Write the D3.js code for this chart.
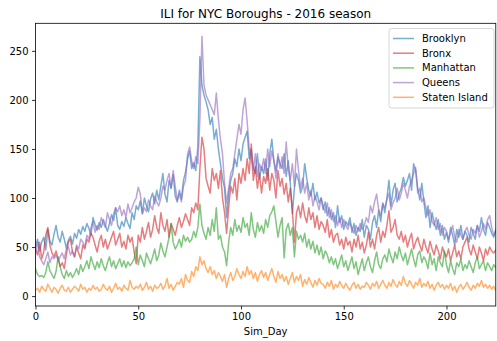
<!DOCTYPE html>
<html>
<head>
<meta charset="utf-8">
<script src="https://cdn.jsdelivr.net/npm/d3@7"></script>
<style>
  html, body { margin: 0; padding: 0; background: #fff; }
  svg { display: block; font-family: "DejaVu Sans", sans-serif; }
</style>
</head>
<body>
<svg id="chart" width="497" height="341"></svg>
<script>
// Daily ILI counts per borough, Sim_Day 0..224
const boroughs = ["Brooklyn", "Bronx", "Manhattan", "Queens", "Staten Island"];

const brooklyn = [
  51, 58, 46, 55, 60, 47, 68, 56, 52, 63,
  72, 60, 55, 66, 58, 49, 57, 61, 53, 64,
  59, 68, 63, 71, 66, 74, 69, 62, 80, 73,
  67, 75, 70, 78, 72, 66, 74, 83, 77, 90,
  72, 68, 76, 71, 80, 74, 69, 85, 78, 92,
  88, 97, 84, 100, 92, 86, 99, 105, 94, 108,
  98, 112, 125, 104, 96, 118, 110, 124, 102, 96,
  108, 99, 118, 126, 140, 148, 130, 136, 128, 152,
  244, 215, 205, 198, 190, 175, 182, 160, 170, 150,
  135, 120, 110, 80, 105, 118, 125, 140, 132, 150,
  138, 155, 162, 168, 140, 150, 132, 125, 145, 120,
  132, 125, 140, 118, 145, 160, 138, 128, 142, 135,
  130, 145, 122, 138, 115, 84, 110, 125, 118, 105,
  112, 135, 120, 108, 102, 115, 98, 106, 95, 100,
  88, 96, 82, 90, 78, 85, 70, 92, 75, 82,
  68, 76, 72, 80, 65, 74, 62, 70, 66, 78,
  60, 72, 68, 58, 75, 82, 70, 88, 76, 95,
  85, 100, 118, 92, 108, 115, 96, 104, 110, 121,
  112, 118, 125, 108, 135, 128, 110, 98, 115, 96,
  80, 92, 70, 85, 75, 68, 78, 62, 72, 58,
  65, 55, 70, 62, 52, 68, 60, 72, 58, 66,
  62, 55, 70, 64, 58, 72, 66, 80, 68, 62,
  75, 70, 64, 60, 68
];

const bronx = [
  48, 42, 55, 38, 45, 62, 70, 52, 44, 40,
  46, 38, 30, 34, 28, 42, 55, 58, 45, 40,
  50, 44, 38, 52, 48, 58, 55, 64, 60, 52,
  45, 56, 62, 50, 58, 48, 54, 60, 66, 52,
  58, 64, 50, 56, 48, 62, 55, 60, 45, 33,
  62, 55, 70, 58, 66, 75, 60, 68, 82, 70,
  64, 85, 72, 66, 78, 60, 74, 68, 62, 72,
  80, 70, 76, 84, 78, 72, 90, 85, 95, 88,
  130, 162, 150, 120, 112, 105, 130, 118, 125, 110,
  128, 100, 85, 64, 90, 112, 105, 120, 98, 125,
  115, 130, 118, 140, 125, 155, 118, 132, 110, 125,
  105, 122, 115, 130, 108, 125, 118, 100, 128, 112,
  120, 104, 115, 96, 110, 88, 55, 85, 92, 80,
  95, 82, 75, 90, 78, 85, 70, 82, 68, 76,
  72, 65, 78, 60, 68, 55, 62, 64, 52, 58,
  48, 60, 52, 56, 45, 58, 50, 62, 48, 55,
  44, 52, 65, 50, 58, 48, 62, 70, 55, 66,
  60, 72, 87, 65, 70, 78, 62, 58, 66, 55,
  62, 50, 58, 64, 48, 55, 60, 52, 46, 58,
  50, 44, 56, 48, 42, 52, 46, 38, 50, 44,
  40, 48, 36, 44, 52, 40, 46, 38, 50, 55,
  60, 48, 42, 52, 45, 38, 50, 44, 36, 48,
  42, 50, 46, 44, 47
];

const manhattan = [
  28, 22, 20, 21, 19, 24, 35, 26, 22, 18,
  25, 40, 30, 22, 18, 26, 20, 24, 19, 23,
  28, 22, 32, 25, 30, 36, 28, 40, 33, 27,
  35, 29, 38, 31, 26, 34, 40, 30, 36, 28,
  33, 38, 30, 36, 29, 35, 31, 34, 38, 50,
  32, 42, 36, 30, 44, 38, 33, 40, 48, 36,
  42, 54, 46, 40, 50, 60, 74, 55, 48, 52,
  58, 50, 62, 56, 60, 55, 58, 66, 60, 70,
  94, 72, 64, 58, 70, 62, 78, 66, 90, 58,
  62, 50, 45, 31, 55, 70, 62, 78, 66, 72,
  65, 80, 70, 74, 62, 85, 68, 60, 75, 66,
  72, 64, 78, 70, 82, 86, 92, 76, 60, 72,
  80, 39, 68, 74, 62, 70, 40, 66, 58, 62,
  55, 64, 50, 58, 48, 56, 44, 52, 42, 50,
  38, 46, 42, 34, 40, 32, 38, 28, 35, 42,
  30, 36, 26, 33, 40, 28, 35, 22, 30, 38,
  26, 34, 40, 30, 24, 36, 45, 32, 28, 38,
  42, 35, 48, 40, 34, 45, 38, 50, 42, 36,
  44, 32, 40, 48, 38, 30, 42, 46, 34, 40,
  36, 28, 44, 32, 38, 26, 40, 34, 30, 46,
  32, 24, 36, 28, 22, 34, 30, 38, 26, 32,
  28, 36, 30, 24, 34, 40, 28, 32, 36, 26,
  34, 30, 26, 32, 29
];

const queens = [
  45, 55, 40, 36, 32, 38, 45, 34, 40, 38,
  42, 36, 40, 44, 38, 48, 50, 42, 46, 40,
  52, 48, 58, 55, 50, 62, 58, 70, 76, 65,
  72, 68, 80, 74, 70, 85, 78, 72, 84, 90,
  86, 92, 82, 88, 80, 94, 85, 90, 96, 100,
  111, 104, 84, 90, 86, 98, 92, 88, 102, 96,
  92, 100, 112, 108, 118, 125, 110, 128, 112, 98,
  104, 96, 112, 118, 145, 152, 138, 130, 142, 135,
  180, 265, 215, 205, 200, 195, 190, 185, 207, 180,
  160, 145, 115, 95, 110, 125, 130, 145, 160, 175,
  165, 190, 202, 178, 150, 140, 128, 145, 122, 135,
  128, 140, 125, 150, 132, 148, 138, 120, 145, 130,
  142, 125, 157, 130, 118, 135, 112, 150, 128, 110,
  120, 105, 115, 98, 108, 92, 102, 96, 88, 100,
  92, 85, 95, 80, 88, 76, 82, 72, 80, 70,
  78, 72, 68, 75, 70, 64, 72, 66, 74, 68,
  72, 80, 75, 92, 85, 96, 104, 88, 82, 94,
  90, 98, 105, 88, 95, 100, 110, 98, 105, 115,
  108, 100, 112, 118, 125, 131, 105, 110, 96, 100,
  90, 82, 88, 76, 72, 80, 68, 74, 62, 70,
  66, 58, 64, 72, 60, 55, 68, 62, 58, 66,
  70, 62, 58, 68, 64, 72, 60, 66, 74, 68,
  78, 82, 70, 62, 66
];

const statenIsland = [
  6, 8, 4, 10, 7, 5, 12, 8, 4, 9,
  7, 3, 8, 11, 6, 5, 9, 4, 7, 10,
  8, 5, 12, 7, 9, 4, 8, 6, 11, 7,
  9, 5, 7, 12, 8, 6, 10, 4, 8, 13,
  7, 9, 5, 11, 8, 6, 16, 9, 7, 10,
  8, 12, 6, 9, 14, 7, 10, 5, 11, 8,
  9, 13, 7, 10, 18, 8, 12, 6, 10, 14,
  12, 18, 9, 22, 16, 14, 25, 20, 30, 26,
  40, 32, 36, 28, 24, 30, 22, 26, 18, 24,
  20, 15, 22, 9, 18, 24, 16, 20, 28, 22,
  18, 25, 20, 30, 22, 26, 18, 24, 15, 22,
  26, 19, 24, 16, 22, 28, 20, 14, 25, 18,
  22, 15, 20, 12, 18, 24, 14, 20, 16, 22,
  10, 17, 12, 19, 14, 9, 16, 11, 18, 13,
  12, 8, 14, 10, 16, 7, 12, 9, 15, 11,
  8, 13, 9, 6, 11, 14, 8, 12, 7, 10,
  9, 14, 11, 7, 13, 10, 15, 8, 12, 16,
  11, 8, 14, 10, 17, 12, 9, 15, 11, 20,
  13, 10, 16, 12, 8, 14, 11, 18, 9, 13,
  10, 15, 8, 12, 6, 11, 14, 9, 12, 7,
  11, 8, 13, 6, 10, 4, 9, 12, 7, 10,
  14, 9, 6, 11, 8, 13, 10, 16, 9, 12,
  8, 11, 7, 10, 6
];

const colors = ["#1f77b4", "#d62728", "#2ca02c", "#9467bd", "#ff7f0e"];
const xTicks = [0, 50, 100, 150, 200];
const yTicks = [0, 50, 100, 150, 200, 250];

const seriesValues = [brooklyn, bronx, manhattan, queens, statenIsland];
const series = boroughs.map((name, i) => ({
  name,
  color: colors[i],
  points: seriesValues[i].map((v, d) => ({ day: d, value: v }))
}));

const svg = d3.select("#chart");
const plot = { left: 35.5, right: 495.8, top: 23.3, bottom: 306 };

const x = d3.scaleLinear()
  .domain([0, brooklyn.length - 1])
  .range([plot.left, plot.right]);

// matplotlib-style 5% vertical margins
const allVals = seriesValues.flat();
const vMin = d3.min(allVals), vMax = d3.max(allVals);
const pad = (vMax - vMin) * 0.05;
const y = d3.scaleLinear()
  .domain([vMin - pad, vMax + pad])
  .range([plot.bottom, plot.top]);

svg.append("defs").append("clipPath").attr("id", "plot-clip")
  .append("rect")
  .attr("x", plot.left).attr("y", plot.top)
  .attr("width", plot.right - plot.left)
  .attr("height", plot.bottom - plot.top);

const line = d3.line()
  .x(d => x(d.day))
  .y(d => y(d.value));

svg.append("g").attr("clip-path", "url(#plot-clip)")
  .selectAll("path")
  .data(series)
  .join("path")
  .attr("d", d => line(d.points))
  .attr("fill", "none")
  .attr("stroke", d => d.color)
  .attr("stroke-width", 1.5)
  .attr("stroke-opacity", 0.6)
  .attr("stroke-linejoin", "round")
  .attr("stroke-linecap", "square");

// Axes
const xAxis = svg.append("g")
  .attr("transform", `translate(0,${plot.bottom})`)
  .call(d3.axisBottom(x).tickValues(xTicks).tickSize(3.5).tickPadding(3.5).tickFormat(d3.format("d")));
const yAxis = svg.append("g")
  .attr("transform", `translate(${plot.left},0)`)
  .call(d3.axisLeft(y).tickValues(yTicks).tickSize(3.5).tickPadding(3.5).tickFormat(d3.format("d")));

[xAxis, yAxis].forEach(g => {
  g.select(".domain").remove();
  g.selectAll(".tick line").attr("stroke", "#000").attr("stroke-width", 0.8);
  g.selectAll(".tick text")
    .attr("fill", "#000")
    .style("font-family", "DejaVu Sans, sans-serif")
    .style("font-size", "10px");
});

// Frame
svg.append("rect")
  .attr("x", plot.left).attr("y", plot.top)
  .attr("width", plot.right - plot.left)
  .attr("height", plot.bottom - plot.top)
  .attr("fill", "none")
  .attr("stroke", "#000")
  .attr("stroke-width", 0.8);

// Title and axis label
svg.append("text")
  .attr("x", (plot.left + plot.right) / 2)
  .attr("y", 17.5)
  .attr("text-anchor", "middle")
  .style("font-size", "12px")
  .attr("fill", "#000")
  .text("ILI for NYC Boroughs - 2016 season");

svg.append("text")
  .attr("x", (plot.left + plot.right) / 2)
  .attr("y", 335)
  .attr("text-anchor", "middle")
  .style("font-size", "10px")
  .attr("fill", "#000")
  .text("Sim_Day");

// Legend
const legend = svg.append("g").attr("transform", "translate(389,28.5)");
legend.append("rect")
  .attr("width", 105).attr("height", 79.5)
  .attr("rx", 2.5)
  .attr("fill", "#fff").attr("fill-opacity", 0.8)
  .attr("stroke", "#cccccc").attr("stroke-width", 0.8);

const rows = legend.selectAll("g.row")
  .data(series)
  .join("g")
  .attr("class", "row")
  .attr("transform", (d, i) => `translate(0,${10 + i * 14.7})`);
rows.append("line")
  .attr("x1", 4).attr("x2", 25)
  .attr("stroke", d => d.color)
  .attr("stroke-width", 1.5)
  .attr("stroke-opacity", 0.6);
rows.append("text")
  .attr("x", 33).attr("y", 0)
  .attr("dy", "0.35em")
  .style("font-size", "10px")
  .attr("fill", "#000")
  .text(d => d.name);
</script>
</body>
</html>
